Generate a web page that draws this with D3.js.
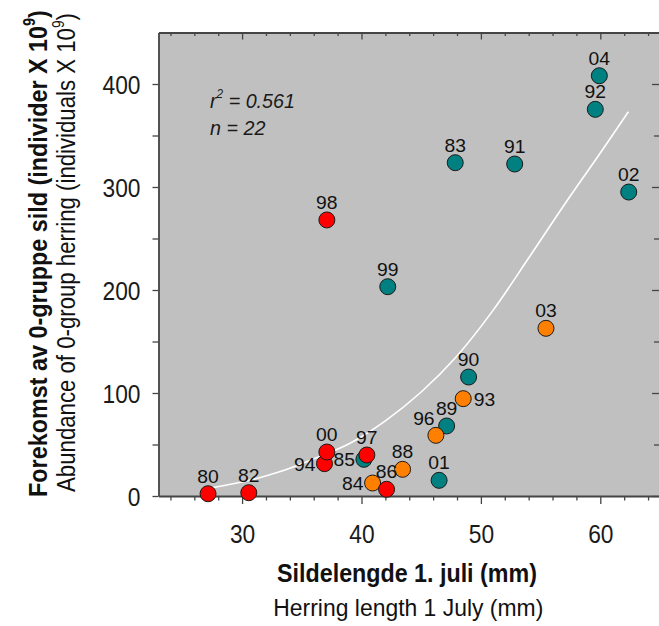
<!DOCTYPE html>
<html><head><meta charset="utf-8">
<script src="https://cdn.jsdelivr.net/npm/d3@7"></script>
<style>
body{margin:0;background:#fff;}
svg{display:block;}
</style></head><body>
<svg id="c" width="659" height="626"></svg>
<script>
// ---- data ----
const years = ["80","82","83","84","85","86","88","89","90","91","92","93","94","96","97","98","99","00","01","02","03","04"];
const lengthMM = [27.15,30.56,47.85,40.93,40.2,42.1,43.44,47.13,48.97,52.83,59.58,48.52,36.9,46.23,40.45,37.1,42.2,37.1,46.5,62.38,55.45,59.92];
const abundance = [2.2,3.2,323.6,12.6,35.6,6.5,25.9,68,115.5,322.3,375.4,94.5,31.4,58.9,39.8,268,203.2,42.7,15.2,295.1,162.8,408];
const group = ["low","low","high","mid","high","low","mid","high","high","high","high","mid","low","mid","low","low","high","low","high","high","mid","high"];
const labelSide = ["top","top","top","left","left","top","top","top","top","top","top","right","left","topleft","top","top","top","top","top","top","top","top"];
const fitLength = [27.2,30,33,36,39,42,45,48,51,54,57,60,62.35];
const fitAbundance = [7.5,13.5,23,36,51,73,101,136,180,231,283,333,373];
const xTicks = [30,40,50,60];
const yTicks = [0,100,200,300,400];
const statR2 = "0.561";
const statN = "22";

// ---- layout ----
const svg = d3.select("#c");
const plot = {left:158.5, right:660, top:32.5, bottom:496};
const x = d3.scaleLinear().domain([23,65]).range([plot.left, plot.right]);
const y = d3.scaleLinear().domain([0,450]).range([plot.bottom, plot.top]);
const color = {low:"#ff0000", mid:"#ff8000", high:"#008080"};
const NARROW = "'Liberation Sans Narrow','Arial Narrow','Liberation Sans',Arial,sans-serif";
const SANS = "'Liberation Sans',Arial,Helvetica,sans-serif";
const AX = "#454545";

svg.append("rect").attr("x",plot.left).attr("y",plot.top)
  .attr("width",plot.right-plot.left).attr("height",plot.bottom-plot.top)
  .attr("fill","#c0c0c0");

// fit curve
svg.append("path")
  .datum(fitLength.map((v,i)=>[v,fitAbundance[i]]))
  .attr("fill","none").attr("stroke","#ffffff").attr("stroke-width",1.6)
  .attr("d", d3.line().x(d=>x(d[0])).y(d=>y(d[1])).curve(d3.curveCatmullRom.alpha(0.5)));

// axes
const minorX = d3.range(24,66,2).filter(v=>v%10!==0);
const minorY = d3.range(50,450,100);
function styleAxis(g, keepDomain){
  g.selectAll(".tick line").attr("stroke",AX).attr("stroke-width",1.3);
  if(keepDomain) g.select(".domain").attr("stroke",AX).attr("stroke-width",1.8);
  else g.select(".domain").remove();
}
let g;
g = svg.append("g").attr("transform",`translate(0,${plot.bottom})`)
  .call(d3.axisBottom(x).tickValues(minorX).tickSize(4.5).tickSizeOuter(0).tickFormat(""));
styleAxis(g,false);
const gBottom = svg.append("g").attr("transform",`translate(0,${plot.bottom})`)
  .call(d3.axisBottom(x).tickValues(xTicks).tickSize(8).tickSizeOuter(0).tickFormat(d3.format("d")));
styleAxis(gBottom,true);
g = svg.append("g").attr("transform",`translate(0,${plot.top})`)
  .call(d3.axisBottom(x).tickValues(minorX).tickSize(3.5).tickSizeOuter(0).tickFormat(""));
styleAxis(g,false);
g = svg.append("g").attr("transform",`translate(0,${plot.top})`)
  .call(d3.axisBottom(x).tickValues(xTicks).tickSize(7).tickSizeOuter(0).tickFormat(""));
styleAxis(g,true);
g = svg.append("g").attr("transform",`translate(${plot.left},0)`)
  .call(d3.axisLeft(y).tickValues(minorY).tickSize(6).tickSizeOuter(0).tickFormat(""));
styleAxis(g,false);
const gLeft = svg.append("g").attr("transform",`translate(${plot.left},0)`)
  .call(d3.axisLeft(y).tickValues(yTicks).tickSize(6).tickSizeOuter(0).tickFormat(d3.format("d")));
styleAxis(gLeft,true);
g = svg.append("g").attr("transform",`translate(${plot.right},0)`)
  .call(d3.axisLeft(y).tickValues(minorY).tickSize(6).tickSizeOuter(0).tickFormat(""));
styleAxis(g,false);
g = svg.append("g").attr("transform",`translate(${plot.right},0)`)
  .call(d3.axisLeft(y).tickValues(yTicks).tickSize(8).tickSizeOuter(0).tickFormat(""));
styleAxis(g,false);

svg.selectAll(".tick text").attr("font-family",NARROW).attr("font-size",25.5).attr("fill","#1a1a1a");
let probe = gLeft.selectAll(".tick text").filter(d=>d===400).node();
const tickScale = 38 / probe.getComputedTextLength();
gBottom.selectAll(".tick text")
  .attr("x",0).attr("y",0).attr("dy",null).attr("text-anchor","middle")
  .attr("transform",`translate(0,46.8) scale(${tickScale},1)`);
gLeft.selectAll(".tick text")
  .attr("x",0).attr("y",0).attr("dy",null).attr("text-anchor","end")
  .attr("transform",`translate(-18,9) scale(${tickScale},1)`);

// points
const pts = years.map((yr,i)=>({yr, lx:lengthMM[i], ab:abundance[i], grp:group[i], side:labelSide[i]}));
svg.append("g").selectAll("circle").data(pts).join("circle")
  .attr("cx",d=>x(d.lx)).attr("cy",d=>y(d.ab)).attr("r",8)
  .attr("fill",d=>color[d.grp]).attr("stroke","#1a1a1a").attr("stroke-width",1);

// point labels
const lab = svg.append("g").selectAll("text").data(pts).join("text")
  .attr("font-family",SANS).attr("font-size",17.5).attr("fill","#111")
  .text(d=>d.yr);
const labScale = 21.5 / lab.filter(d=>d.yr==="04").node().getComputedTextLength();
lab.attr("text-anchor",d=>d.side==="left"?"end":(d.side==="right"?"start":"middle"))
  .attr("transform",d=>{
    const cx=x(d.lx), cy=y(d.ab);
    let tx=cx, ty=cy-11;
    if(d.side==="left"){tx=cx-9; ty=cy+7;}
    else if(d.side==="right"){tx=cx+10.5; ty=cy+7.5;}
    else if(d.side==="topleft"){tx=cx-12; ty=cy-10;}
    return `translate(${tx},${ty}) scale(${labScale},1)`;
  });

// statistics annotation
const ann = svg.append("g").attr("font-family",NARROW).attr("font-style","italic").attr("fill","#1a1a1a");
const t1 = ann.append("text").attr("font-size",20);
t1.append("tspan").text("r");
t1.append("tspan").attr("font-size",12).attr("dy",-10).text("2");
t1.append("tspan").attr("dy",10).text(" = " + statR2);
const annScale = 85 / t1.node().getComputedTextLength();
t1.attr("transform",`translate(210,108) scale(${annScale},1)`);
ann.append("text").attr("font-size",20).text("n = " + statN)
  .attr("transform",`translate(210,135) scale(${annScale},1)`);

// axis titles
function title(parts, opts){
  const t = svg.append("text").attr("font-family",NARROW).attr("font-size",opts.size)
    .attr("font-weight",opts.bold?"bold":"normal").attr("text-anchor","middle").attr("fill","#111");
  parts.forEach(p=>{
    const s=t.append("tspan").text(p.t);
    if(p.sup){ s.attr("font-size",opts.size*0.62).attr("dy",-opts.size*0.42); }
    if(p.after){ s.attr("dy",opts.size*0.42); }
  });
  const sc = opts.len / t.node().getComputedTextLength();
  t.attr("transform",`translate(${opts.x},${opts.y}) rotate(${opts.rot||0}) scale(${sc},1)`);
  return t;
}
title([{t:"Sildelengde 1. juli (mm)"}],{size:25,bold:true,len:260,x:407,y:581.5});
title([{t:"Herring length 1 July (mm)"}],{size:24.5,bold:false,len:270,x:408.3,y:615.5});
title([{t:"Forekomst av 0-gruppe sild (individer X 10"},{t:"9",sup:true},{t:")",after:true}],
  {size:26.5,bold:true,len:487,x:46.5,y:253.5,rot:-90});
title([{t:"Abundance of 0-group herring (individuals X 10"},{t:"9",sup:true},{t:")",after:true}],
  {size:26.5,bold:false,len:479,x:75,y:252.5,rot:-90});
</script>
</body></html>
